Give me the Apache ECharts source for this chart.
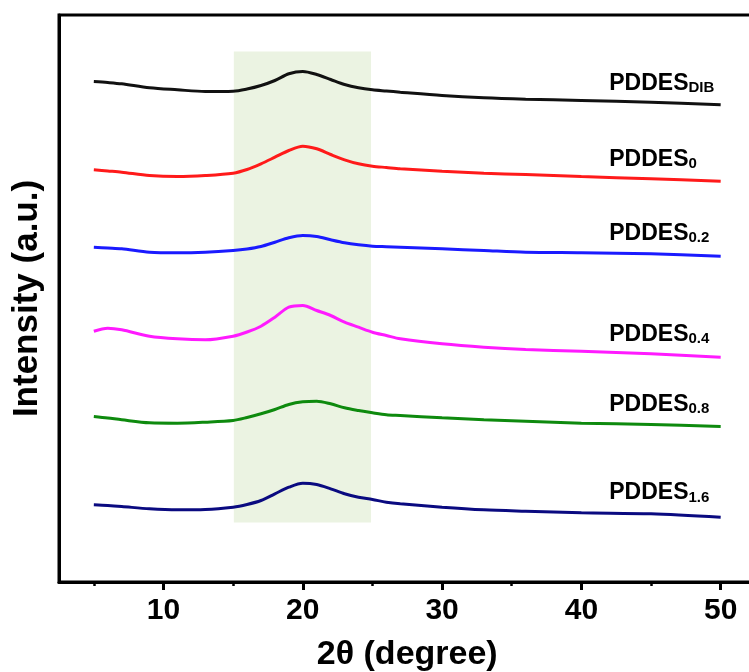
<!DOCTYPE html>
<html>
<head>
<meta charset="utf-8">
<script src="https://cdn.jsdelivr.net/npm/echarts@6/dist/echarts.min.js"></script>
<style>
  html, body { margin: 0; padding: 0; background: #fff; }
  #chart { width: 749px; height: 672px; }
</style>
</head>
<body>
<div id="chart"></div>
<script>
// 2θ positions (degree) shared by every pattern
const twoTheta = [5, 6, 7, 9, 11, 13, 15, 16, 17, 18, 19, 20, 21, 22, 23, 24, 25, 26, 27, 30, 33, 36, 40, 45, 50];

// Stacked XRD intensities (a.u., already offset for display)
const pddesDIB = [500.5, 499.5, 498.2, 494.2, 492.2, 490.5, 490.8, 493, 496.5, 501.5, 508.2, 510.5, 507.5, 502.5, 497.5, 494.2, 492.2, 491, 489.8, 486.5, 484.2, 482.8, 481.5, 479.8, 477.2];
const pddes0   = [412.2, 411, 409.8, 406.5, 405.5, 406.5, 408.8, 412.5, 418.2, 424.8, 431.5, 435.8, 433.2, 427.5, 422.2, 418.2, 415.8, 414.5, 413.2, 410.8, 408.8, 407.5, 405.5, 403.2, 400.8];
const pddes02  = [334.8, 334, 333.2, 329.8, 329.2, 329.8, 331.5, 333, 335.5, 339.8, 344.2, 346.5, 345.5, 342.2, 339.2, 337.2, 335.8, 335.3, 334.8, 333.2, 331.5, 329.8, 329.2, 328.2, 325.8];
const pddes04  = [250.8, 253.8, 252.2, 245.8, 243.2, 242.2, 245.8, 250, 255.8, 264.8, 274.8, 276.5, 271.5, 266.5, 259.8, 254.8, 249.8, 246.5, 243.2, 238.2, 234.8, 232.5, 230.8, 228.2, 224.8];
const pddes08  = [165.5, 164, 162.2, 159.2, 158.8, 159.8, 161.5, 164.5, 168.2, 172.5, 177.5, 180.2, 180.8, 178.2, 174.2, 171.5, 169.2, 167.2, 166.5, 164.2, 162.2, 160.8, 158.8, 157.5, 155.5];
const pddes16  = [77.2, 76.5, 75.5, 73.2, 72.2, 72.5, 74.8, 77.5, 81.5, 88.2, 94.8, 98.8, 97.5, 93.2, 88.2, 84.8, 82.5, 79.8, 78.2, 74.8, 72.2, 70.8, 69.2, 68.2, 64.8];

// Sample names: base text + subscript
const sampleSubs = ['DIB', '0', '0.2', '0.4', '0.8', '1.6'];
// Where each name sits (2θ, intensity of the text's vertical centre)
const labelTheta = 42;
const labelLevel = [498.5, 422.5, 348.7, 247.8, 177.5, 89];

// Tick positions and labels
const majorTicks = [10, 20, 30, 40, 50];
const minorTicks = [5, 15, 25, 35, 45];
// Amorphous halo region (2θ)
const haloRange = [15.05, 24.9];
const haloLevel = [59.5, 530.5];

const seriesValues = [pddesDIB, pddes0, pddes02, pddes04, pddes08, pddes16];
const seriesColors = ['#111111', '#ff1a1a', '#1a1aff', '#ff1aff', '#0e8a0e', '#0a0a80'];

const FONT = '"Liberation Sans", Arial, Helvetica, sans-serif';

const chart = echarts.init(document.getElementById('chart'), null, { renderer: 'canvas' });

const curves = seriesValues.map((vals, i) => ({
  type: 'line',
  name: 'PDDES' + sampleSubs[i],
  xAxisIndex: 0,
  data: twoTheta.map((t, k) => [t, vals[k]]),
  smooth: 0.3,
  showSymbol: false,
  symbol: 'none',
  z: 3,
  lineStyle: { color: seriesColors[i], width: 3 },
  silent: true,
  animation: false,
  markPoint: {
    symbol: 'circle',
    symbolSize: 0,
    silent: true,
    animation: false,
    data: [{
      coord: [labelTheta, labelLevel[i]],
      label: {
        show: true,
        position: [0, 0],
        align: 'left',
        verticalAlign: 'middle',
        formatter: '{a|PDDES}{s|' + sampleSubs[i] + '}',
        rich: {
          a: { fontFamily: FONT, fontWeight: 'bold', fontSize: 23, color: '#000', lineHeight: 24 },
          s: { fontFamily: FONT, fontWeight: 'bold', fontSize: 15, color: '#000', lineHeight: 5, verticalAlign: 'bottom' }
        }
      }
    }]
  }
}));

const option = {
  animation: false,
  backgroundColor: '#ffffff',
  grid: {
    left: 59, top: 15, right: -6.5, bottom: 90,
    outerBoundsMode: 'none',
    containLabel: false,
    show: true, borderColor: '#000', borderWidth: 3, backgroundColor: 'transparent'
  },
  xAxis: [{
    type: 'value',
    min: 2.5, max: 52.5,
    position: 'bottom',
    name: '2θ (degree)',
    nameLocation: 'middle',
    nameGap: 56,
    nameTextStyle: { fontFamily: FONT, fontWeight: 'bold', fontSize: 34, color: '#000' },
    axisLine: { show: true, lineStyle: { color: '#000', width: 3 } },
    axisTick: { show: true, inside: false, length: 8, customValues: majorTicks, lineStyle: { color: '#000', width: 3 } },
    axisLabel: { show: true, customValues: majorTicks, margin: 14, fontFamily: FONT, fontWeight: 'bold', fontSize: 30, color: '#000' },
    splitLine: { show: false }
  }, {
    type: 'value',
    min: 2.5, max: 52.5,
    position: 'bottom',
    axisLine: { show: false },
    axisTick: { show: true, inside: false, length: 4, customValues: minorTicks, lineStyle: { color: '#000', width: 2.5 } },
    axisLabel: { show: false },
    splitLine: { show: false }
  }],
  yAxis: {
    type: 'value',
    min: 0, max: 567,
    name: 'Intensity (a.u.)',
    nameLocation: 'middle',
    nameGap: 14,
    nameTextStyle: { fontFamily: FONT, fontWeight: 'bold', fontSize: 35, color: '#000' },
    axisLine: { show: true, lineStyle: { color: '#000', width: 3 } },
    axisTick: { show: false },
    axisLabel: { show: false },
    splitLine: { show: false }
  },
  series: [{
    type: 'line',
    name: 'halo',
    data: [],
    z: 1,
    silent: true,
    markArea: {
      silent: true,
      itemStyle: { color: 'rgb(235,243,226)' },
      data: [[{ coord: [haloRange[0], haloLevel[0]] }, { coord: [haloRange[1], haloLevel[1]] }]]
    }
  }].concat(curves)
};

chart.setOption(option);
</script>
</body>
</html>
